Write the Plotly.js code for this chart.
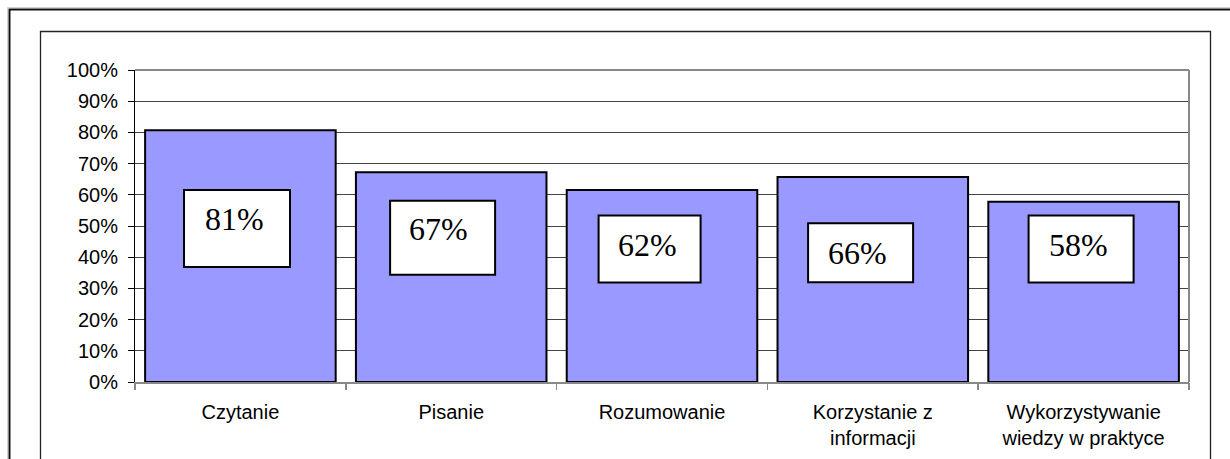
<!DOCTYPE html>
<html>
<head>
<meta charset="utf-8">
<script src="https://cdn.plot.ly/plotly-3.0.1.min.js"></script>
<style>
  html, body { margin: 0; padding: 0; background: #fff; }
  #chart { width: 1230px; height: 459px; }
</style>
</head>
<body>
<div id="chart"></div>
<script>
// ---- data ----
const categories = ['Czytanie', 'Pisanie', 'Rozumowanie', 'Korzystanie z<br>informacji', 'Wykorzystywanie<br>wiedzy w praktyce'];
const values = [80.7, 67.2, 61.5, 65.7, 57.8];
const tickValues = [0, 10, 20, 30, 40, 50, 60, 70, 80, 90, 100];
const tickLabels = ['0%', '10%', '20%', '30%', '40%', '50%', '60%', '70%', '80%', '90%', '100%'];
const valueLabels = values.map(v => Math.round(v) + '%');

// ---- label box placement (layout only, pixels / axis units) ----
const boxDx = [-3.4, -8.6, -12.4, -12.2, -2.5];
const boxCy = [49.2, 46.25, 42.6, 41.4, 42.6];
const boxW = [108, 107, 104, 107, 107];
const boxH = [79, 76, 69, 61, 69];
const textDx = [-6.4, -12.6, -14.9, -15.7, -5.5];
const textCy = [52.2, 48.9, 43.8, 41.5, 43.9];

const W = 1230, H = 459, L = 135, R = 41, T = 70, B = 77;
const PW = W - L - R, PH = H - T - B;
const px = x => (x - L) / PW;
const py = y => (H - B - y) / PH;

const sansFont = '"Liberation Sans", Arial, sans-serif';
const serifFont = '"Liberation Serif", "Times New Roman", serif';

const shapes = [];
// faint outer shadow line
shapes.push({type: 'rect', xref: 'paper', yref: 'paper', x0: px(7.5), x1: px(1240), y0: py(7.5), y1: py(480),
  line: {color: '#d0d0d0', width: 1}, fillcolor: 'rgba(0,0,0,0)', layer: 'below'});
// outer frame (cut off at right & bottom)
shapes.push({type: 'rect', xref: 'paper', yref: 'paper', x0: px(9.5), x1: px(1240), y0: py(9.5), y1: py(480),
  line: {color: '#111', width: 2}, fillcolor: 'rgba(0,0,0,0)', layer: 'below'});
// inner frame
shapes.push({type: 'rect', xref: 'paper', yref: 'paper', x0: px(40.5), x1: px(1210.5), y0: py(31.5), y1: py(480),
  line: {color: '#222', width: 1.3}, fillcolor: 'rgba(0,0,0,0)', layer: 'below'});
// plot area top & right border (gray)
shapes.push({type: 'line', xref: 'paper', yref: 'paper', x0: 0, x1: 1, y0: 1, y1: 1, line: {color: '#888', width: 2}});
shapes.push({type: 'line', xref: 'paper', yref: 'paper', x0: 1, x1: 1, y0: 0, y1: 1, line: {color: '#888', width: 2}});

const annotations = [];
values.forEach((v, i) => {
  shapes.push({
    type: 'rect', xref: 'x', yref: 'y', layer: 'above',
    xsizemode: 'pixel', ysizemode: 'pixel',
    xanchor: i, yanchor: boxCy[i],
    x0: boxDx[i] - (boxW[i] - 2) / 2, x1: boxDx[i] + (boxW[i] - 2) / 2,
    y0: -(boxH[i] - 2) / 2, y1: (boxH[i] - 2) / 2,
    line: {color: '#000', width: 2}, fillcolor: '#fff'
  });
  annotations.push({
    xref: 'x', yref: 'y', x: i, y: textCy[i], xshift: textDx[i],
    text: valueLabels[i], showarrow: false,
    xanchor: 'center', yanchor: 'middle',
    font: {family: serifFont, size: 32, color: '#000'}
  });
});

const trace = {
  type: 'bar',
  x: [0, 1, 2, 3, 4],
  y: values,
  marker: {color: '#9999FF', line: {color: '#000', width: 2}},
  hoverinfo: 'none'
};

const layout = {
  width: W, height: H,
  margin: {l: L, r: R, t: T, b: B, pad: 0},
  paper_bgcolor: '#fff', plot_bgcolor: '#fff',
  showlegend: false,
  bargap: 0.096,
  font: {family: sansFont, size: 20, color: '#000'},
  xaxis: {
    type: 'linear', range: [-0.5, 4.5],
    tickmode: 'array', tickvals: [0, 1, 2, 3, 4], ticktext: categories,
    ticks: '', showgrid: false, zeroline: false,
    showline: true, linecolor: '#888', linewidth: 2,
    tickfont: {family: sansFont, size: 20, color: '#000'},
    ticklabelstandoff: 11,
    fixedrange: true
  },
  xaxis2: {
    overlaying: 'x', matching: 'x', range: [-0.5, 4.5],
    tickmode: 'array', tickvals: [-0.5, 0.5, 1.5, 2.5, 3.5, 4.5],
    ticks: 'outside', ticklen: 7, tickcolor: '#888', tickwidth: 1.5,
    showticklabels: false, showgrid: false, zeroline: false, showline: false,
    side: 'bottom', anchor: 'y'
  },
  yaxis: {
    range: [0, 100], tickmode: 'array', tickvals: tickValues, ticktext: tickLabels,
    ticks: 'outside', ticklen: 6, tickcolor: '#000', tickwidth: 1,
    showline: true, linecolor: '#000', linewidth: 1,
    showgrid: true, gridcolor: '#444', gridwidth: 1,
    zeroline: false,
    tickfont: {family: sansFont, size: 20, color: '#000'},
    ticklabelstandoff: 6,
    fixedrange: true
  },
  shapes: shapes,
  annotations: annotations
};

// invisible trace to activate xaxis2 ticks
const dummy = {type: 'scatter', x: [0], y: [0], xaxis: 'x2', yaxis: 'y', mode: 'markers',
  marker: {opacity: 0}, hoverinfo: 'none'};

Plotly.newPlot('chart', [trace, dummy], layout, {displayModeBar: false, staticPlot: true});
</script>
</body>
</html>
